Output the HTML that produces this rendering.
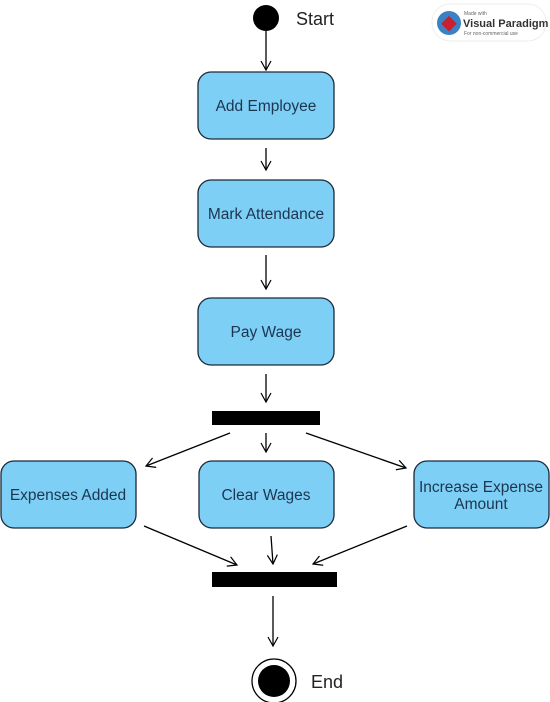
<!DOCTYPE html>
<html><head><meta charset="utf-8"><style>
html,body{margin:0;padding:0;background:#fff;}
svg{display:block;}
text{font-family:"Liberation Sans",sans-serif;}
</style></head><body>
<svg width="550" height="702" viewBox="0 0 550 702" xmlns="http://www.w3.org/2000/svg">
<defs>
<marker id="a" markerWidth="12" markerHeight="12" refX="10" refY="6" orient="auto" markerUnits="userSpaceOnUse">
<path d="M1,1 L10,6 L1,11" fill="none" stroke="#000" stroke-width="1.2"/>
</marker>
</defs>
<rect x="432" y="4" width="114" height="37" rx="18" fill="#fff" stroke="#eee"/>
<circle cx="449" cy="23" r="12" fill="#3b82c4"/>
<rect x="444" y="18" width="11" height="11" fill="#c8202f" transform="rotate(45 449 23)"/>
<text x="464" y="15" font-size="5" fill="#666">Made with</text>
<text x="463" y="27" font-size="11" font-weight="bold" fill="#333">Visual Paradigm</text>
<text x="464" y="35" font-size="5" fill="#666">For non-commercial use</text>

<circle cx="266" cy="18" r="13" fill="#000"/>
<text x="296" y="25" font-size="18" fill="#222">Start</text>

<g fill="#7dcff5" stroke="#1a2a3a" stroke-width="1.3">
<rect x="198" y="72" width="136" height="67" rx="13"/>
<rect x="198" y="180" width="136" height="67" rx="13"/>
<rect x="198" y="298" width="136" height="67" rx="13"/>
<rect x="1" y="461" width="135" height="67" rx="13"/>
<rect x="199" y="461" width="135" height="67" rx="13"/>
<rect x="414" y="461" width="135" height="67" rx="13"/>
</g>
<g font-size="15.5" fill="#1d3550" text-anchor="middle">
<text x="266" y="111">Add Employee</text>
<text x="266" y="219">Mark Attendance</text>
<text x="266" y="337">Pay Wage</text>
<text x="68" y="500">Expenses Added</text>
<text x="266" y="500">Clear Wages</text>
<text x="481" y="492">Increase Expense</text>
<text x="481" y="509">Amount</text>
</g>
<rect x="212" y="411" width="108" height="14" fill="#000"/>
<rect x="212" y="572" width="125" height="15" fill="#000"/>

<g stroke="#000" stroke-width="1.3" marker-end="url(#a)">
<line x1="266" y1="31" x2="266" y2="70"/>
<line x1="266" y1="148" x2="266" y2="170"/>
<line x1="266" y1="255" x2="266" y2="289"/>
<line x1="266" y1="374" x2="266" y2="402"/>
<line x1="230" y1="433" x2="146" y2="466"/>
<line x1="266" y1="433" x2="266" y2="452"/>
<line x1="306" y1="433" x2="406" y2="468"/>
<line x1="144" y1="526" x2="237" y2="565"/>
<line x1="271" y1="536" x2="273" y2="564"/>
<line x1="407" y1="526" x2="313" y2="564"/>
<line x1="273" y1="596" x2="273" y2="646"/>
</g>
<circle cx="274" cy="681" r="22" fill="#fff" stroke="#000" stroke-width="1.3"/>
<circle cx="274" cy="681" r="16" fill="#000"/>
<text x="311" y="688" font-size="18" fill="#222">End</text>
</svg>
</body></html>
